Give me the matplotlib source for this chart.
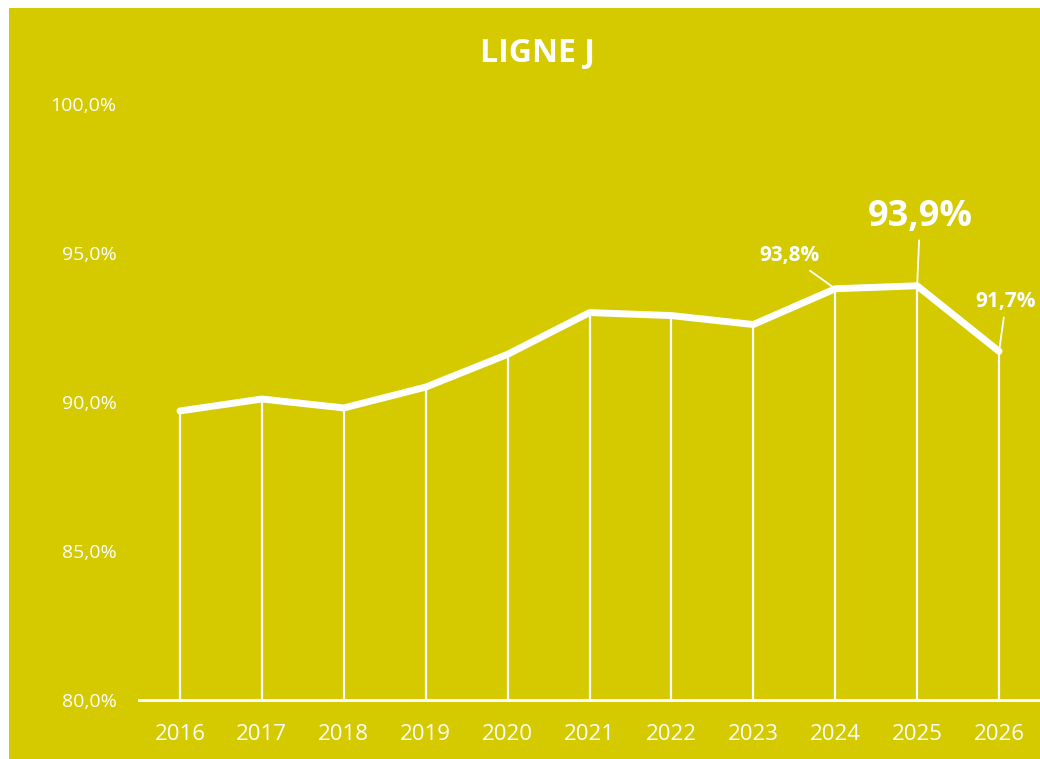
import matplotlib
matplotlib.use('Agg')
import matplotlib.pyplot as plt

years = ['2016', '2017', '2018', '2019', '2020', '2021', '2022', '2023', '2024', '2025', '2026']
rates = [89.7, 90.1, 89.8, 90.5, 91.6, 93.0, 92.9, 92.6, 93.8, 93.9, 91.7]
yticks = [80, 85, 90, 95, 100]
title = 'LIGNE J'

# labelled points: index, text, offset (px), font size
callouts = [(8, '93,8%', (-46, 33), 15),
            (9, '93,9%', (3, 69), 26),
            (10, '91,7%', (7, 50), 15)]

bg = '#D5C900'
plt.rcParams['font.family'] = ['Open Sans', 'DejaVu Sans']

fig = plt.figure(figsize=(10.4, 7.59), dpi=100)
fig.patch.set_facecolor('white')
# yellow panel behind the axes
fig.patches.append(plt.Rectangle((9 / 1040, 0), 1, 751 / 759, transform=fig.transFigure,
                                 facecolor=bg, edgecolor='none', zorder=-5))

ax = fig.add_axes([139 / 1040, 59 / 759, 901 / 1040, 596 / 759])
ax.set_facecolor('none')
ax.set_zorder(2)
x = list(range(len(years)))

ax.vlines(x, 80, rates, color='white', lw=1.6, zorder=2)
ax.plot(x, rates, color='white', lw=5, solid_capstyle='round', solid_joinstyle='round', zorder=3)

for i, txt, off, fs in callouts:
    ax.annotate(txt, xy=(i, rates[i]), xytext=off, textcoords='offset pixels',
                ha='center', va='center', color='white', fontsize=fs, fontweight='bold',
                arrowprops=dict(arrowstyle='-', color='white', lw=1.3, shrinkA=2, shrinkB=1))

ax.set_xlim(-0.5, 10.5)
ax.set_ylim(80, 100)
ax.set_xticks(x)
ax.set_xticklabels(years)
ax.set_yticks(yticks)
ax.set_yticklabels(['{:.1f}%'.format(v).replace('.', ',') for v in yticks])
ax.tick_params(length=0, colors='white')
ax.tick_params(axis='x', pad=17, labelsize=16)
ax.tick_params(axis='y', pad=16, labelsize=14)
for s in ['top', 'right', 'left']:
    ax.spines[s].set_visible(False)
ax.spines['bottom'].set_color('white')
ax.spines['bottom'].set_linewidth(2.2)

fig.text(537 / 1040, 1 - 53 / 759, title, ha='center', va='center', color='white',
         fontsize=23, fontweight='bold', zorder=3)

fig.savefig('out.png', dpi=100)
